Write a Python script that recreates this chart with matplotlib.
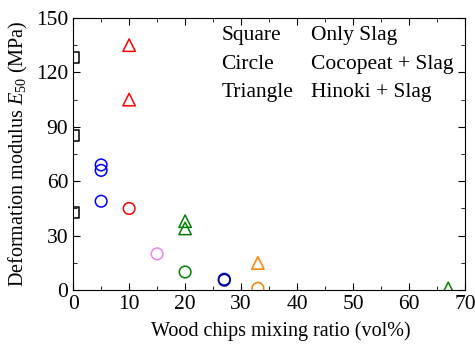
import matplotlib
matplotlib.use("Agg")
import matplotlib.pyplot as plt
from matplotlib.ticker import MultipleLocator

plt.rcParams['font.family'] = ['Liberation Serif', 'DejaVu Serif']
plt.rcParams['mathtext.fontset'] = 'custom'
plt.rcParams['mathtext.it'] = 'Liberation Serif:italic'
plt.rcParams['mathtext.rm'] = 'Liberation Serif'

# Only slag (squares)
sq_x = [0, 0, 0]
sq_y = [128, 85, 43]
# Cocopeat + slag (circles)
ci_x = [5, 5, 5, 10, 15, 20, 27, 27, 33]
ci_y = [69, 66, 49, 45, 20, 10, 6, 5.5, 1]
ci_c = ['#0000ff', '#0000ff', '#0000ff', '#ff0000', '#ee82ee', '#008000', '#0000ff', '#000080', '#ff7f00']
# Hinoki + slag (triangles)
tr_x = [10, 10, 20, 20, 33, 67]
tr_y = [135, 105, 38, 34, 15, 1]
tr_c = ['#ff0000', '#ff0000', '#008000', '#008000', '#ff7f00', '#008000']

fig = plt.figure(figsize=(4.75, 3.45), dpi=100)
ax = fig.add_axes([0.154, 0.159, 0.825, 0.789])

ax.scatter(sq_x, sq_y, marker='s', s=65, facecolors='none', edgecolors='black', linewidths=1.1)
ax.scatter(ci_x, ci_y, marker='o', s=70, facecolors='none', edgecolors=ci_c, linewidths=1.1)
ax.scatter(tr_x, tr_y, marker='^', s=80, facecolors='none', edgecolors=tr_c, linewidths=1.1)

ax.set_xlim(0, 70)
ax.set_ylim(0, 150)
ax.xaxis.set_major_locator(MultipleLocator(10))
ax.xaxis.set_minor_locator(MultipleLocator(5))
ax.yaxis.set_major_locator(MultipleLocator(30))
ax.yaxis.set_minor_locator(MultipleLocator(15))
ax.tick_params(which='both', direction='in', top=True, right=True, labelsize=15.5)
ax.tick_params(which='major', length=5)
ax.tick_params(which='minor', length=3)

ax.set_xlabel('Wood chips mixing ratio (vol%)', fontsize=14.5, labelpad=2)
ax.xaxis.set_label_coords(0.53, -0.115)
ax.set_ylabel('Deformation modulus $\\mathit{E}_{50}$ (MPa)', fontsize=14.5, labelpad=4)

for i, (a, b) in enumerate([('Square', 'Only Slag'), ('Circle', 'Cocopeat + Slag'), ('Triangle', 'Hinoki + Slag')]):
    y = 0.935 - i * 0.105
    ax.text(0.378, y, a, transform=ax.transAxes, fontsize=15.5, va='center')
    ax.text(0.608, y, b, transform=ax.transAxes, fontsize=15.5, va='center')

fig.savefig('out.png', dpi=100)
